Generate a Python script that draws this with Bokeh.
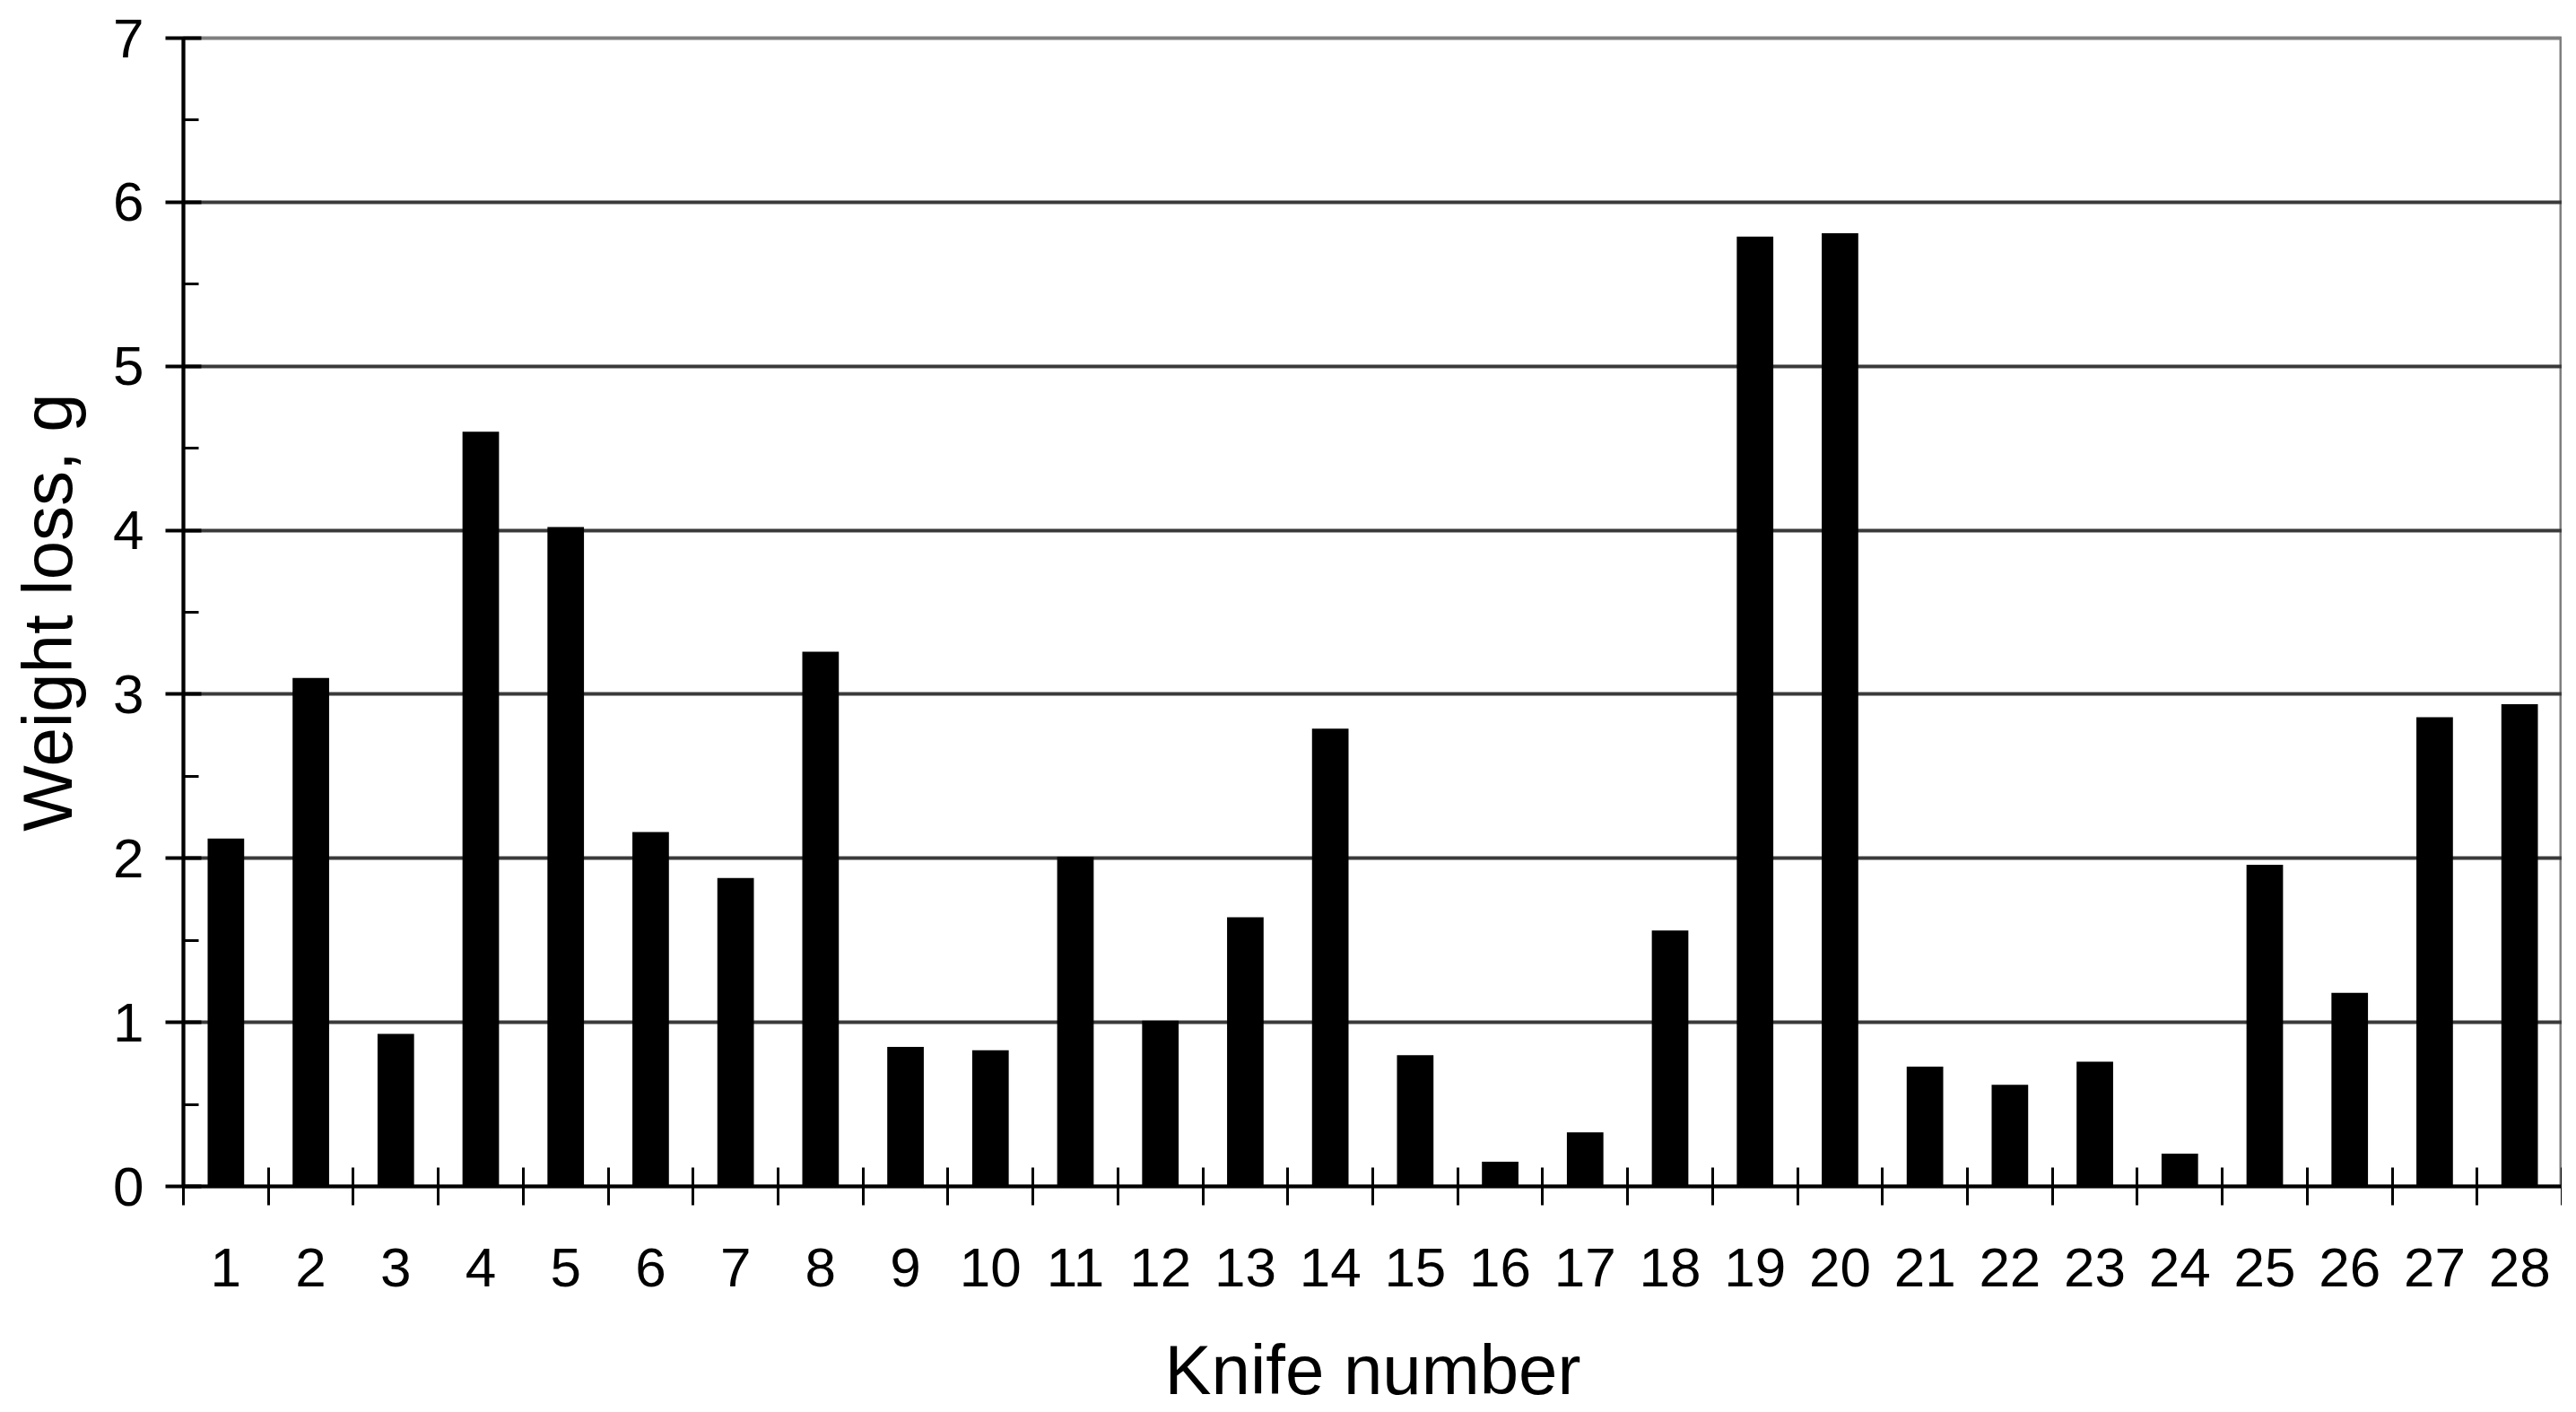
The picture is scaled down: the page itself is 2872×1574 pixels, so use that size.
from bokeh.plotting import figure
from bokeh.models import FixedTicker, Range1d
from bokeh.embed import file_html
from bokeh.resources import INLINE

knife = list(range(1, 29))
weight_loss = [2.12, 3.10, 0.93, 4.60, 4.02, 2.16, 1.88, 3.26, 0.85, 0.83,
               2.01, 1.01, 1.64, 2.79, 0.80, 0.15, 0.33, 1.56, 5.79, 5.81,
               0.73, 0.62, 0.76, 0.20, 1.96, 1.18, 2.86, 2.94]
y_ticks = [0, 1, 2, 3, 4, 5, 6, 7]
x_title = "Knife number"
y_title = "Weight loss, g"

FONT = "Liberation Sans"

p = figure(width=2856, height=1573, output_backend="svg", toolbar_location=None,
           x_range=Range1d(0.5, 28.5), y_range=Range1d(0, 7),
           min_border_left=204, min_border_right=0, min_border_top=42,
           min_border_bottom=249)

p.vbar(x=knife, top=weight_loss, width=0.43, bottom=0,
       fill_color="black", line_color=None)

# axes
p.xaxis.ticker = FixedTicker(ticks=knife, minor_ticks=[k + 0.5 for k in range(0, 29)])
p.yaxis.ticker = FixedTicker(ticks=y_ticks, minor_ticks=[v + 0.5 for v in y_ticks[:-1]])

for ax in (p.xaxis[0], p.yaxis[0]):
    ax.axis_line_color = "black"
    ax.axis_line_width = 4
    ax.major_label_text_font = FONT
    ax.major_label_text_font_size = "62px"
    ax.major_label_text_color = "black"
    ax.axis_label_text_font = FONT
    ax.axis_label_text_font_size = "78px"
    ax.axis_label_text_font_style = "normal"
    ax.axis_label_text_color = "black"

xa = p.xaxis[0]
xa.axis_label = x_title
xa.major_tick_in = 0
xa.major_tick_out = 0
xa.minor_tick_in = 21
xa.minor_tick_out = 21
xa.minor_tick_line_color = "black"
xa.minor_tick_line_width = 3
xa.major_label_standoff = 48
xa.axis_label_standoff = 46

ya = p.yaxis[0]
ya.axis_label = y_title
ya.major_tick_in = 20
ya.major_tick_out = 20
ya.major_tick_line_color = "black"
ya.major_tick_line_width = 4
ya.minor_tick_in = 17
ya.minor_tick_out = 0
ya.minor_tick_line_color = "black"
ya.minor_tick_line_width = 3
ya.major_label_standoff = 24
ya.axis_label_standoff = 26

p.xgrid.grid_line_color = None
p.ygrid.ticker = FixedTicker(ticks=[1, 2, 3, 4, 5, 6])
p.ygrid.grid_line_color = "#3a3a3a"
p.ygrid.grid_line_width = 4

p.outline_line_color = "#7f7f7f"
p.outline_line_width = 4
p.background_fill_color = "white"
p.border_fill_color = "white"

open("out.html", "w").write(file_html(p, INLINE))
